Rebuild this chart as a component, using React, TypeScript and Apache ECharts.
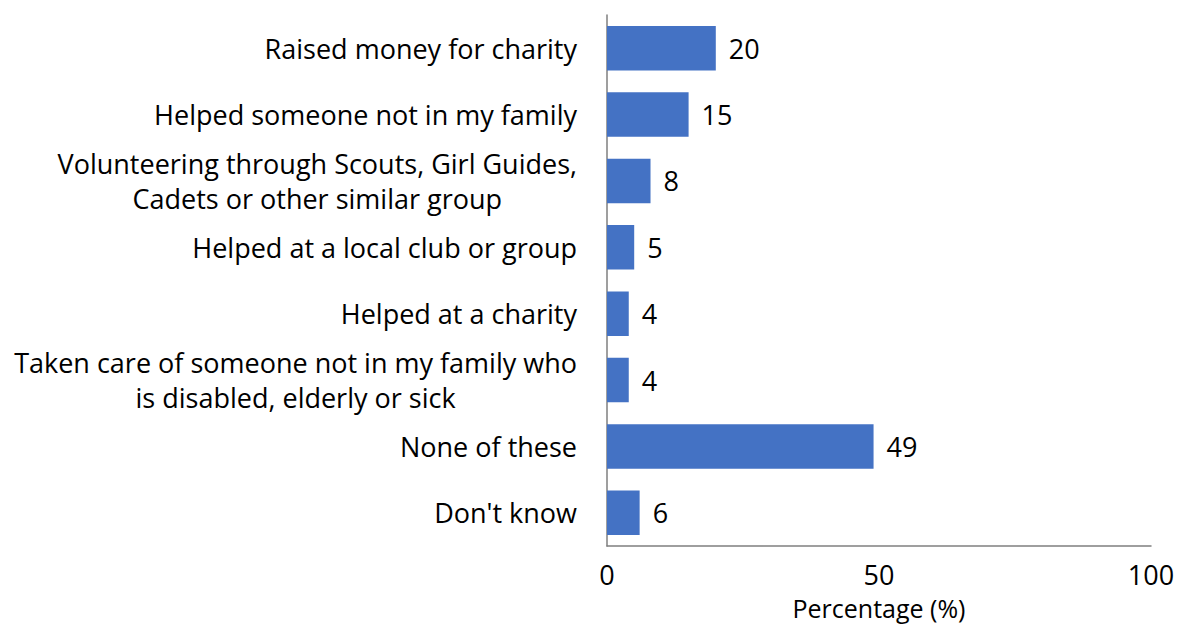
import React, { useEffect, useRef } from "react";
import * as echarts from "echarts";

const categories = [
  "Raised money for charity",
  "Helped someone not in my family",
  "Volunteering through Scouts, Girl Guides,\nCadets or other similar group",
  "Helped at a local club or group",
  "Helped at a charity",
  "Taken care of someone not in my family who\nis disabled, elderly or sick",
  "None of these",
  "Don't know",
];
const values = [20, 15, 8, 5, 4, 4, 49, 6];
const xTicks = [0, 50, 100];
const axisName = "Percentage (%)";

const FONT = "Open Sans";
const FS = 27;

export default function App() {
  const ref = useRef<HTMLDivElement>(null);
  useEffect(() => {
    if (!ref.current) return;
    const chart = echarts.init(ref.current, undefined, { renderer: "svg" });
    chart.setOption({
      animation: false,
      grid: { left: 607, right: 26, top: 15, bottom: 83, containLabel: false, outerBoundsMode: "none" },
      xAxis: {
        type: "value",
        min: xTicks[0],
        max: xTicks[xTicks.length - 1],
        interval: 50,
        name: axisName,
        nameLocation: "middle",
        nameGap: 48,
        nameTextStyle: { fontFamily: FONT, fontSize: 25, lineHeight: 28, color: "#000" },
        axisLine: { show: true, lineStyle: { color: "#7f7f7f", width: 1.5 } },
        axisTick: { show: false },
        splitLine: { show: false },
        axisLabel: { fontFamily: FONT, fontSize: FS, lineHeight: 30, color: "#000", margin: 13 },
      },
      yAxis: {
        type: "category",
        data: categories,
        inverse: true,
        axisLine: { show: true, lineStyle: { color: "#7f7f7f", width: 1.5 } },
        axisTick: { show: false },
        axisLabel: {
          margin: 30,
          formatter: (v: string) => v.split("\n").map((l) => `{c|${l}}`).join("\n"),
          rich: {
            c: { fontFamily: FONT, fontSize: FS, color: "#000", align: "center", lineHeight: 35 },
          },
        },
      },
      series: [
        {
          type: "bar",
          data: values,
          barCategoryGap: "33%",
          itemStyle: { color: "#4472C4" },
          label: {
            show: true,
            position: "right",
            distance: 13,
            fontFamily: FONT,
            fontSize: FS,
            color: "#000",
          },
        },
      ],
    });
    return () => chart.dispose();
  }, []);
  return (
    <div
      ref={ref}
      style={{ position: "absolute", left: 0, top: 0, width: 1177, height: 629 }}
    />
  );
}
